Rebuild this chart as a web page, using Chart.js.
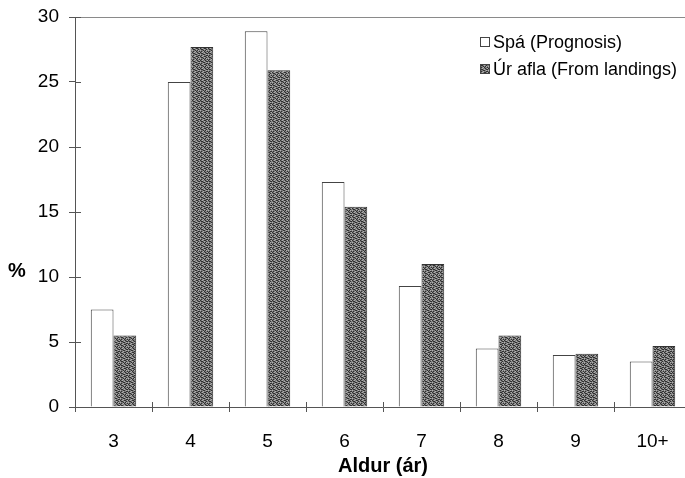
<!DOCTYPE html>
<html>
<head>
<meta charset="utf-8">
<script src="https://cdn.jsdelivr.net/npm/chart.js@4/dist/chart.umd.min.js"></script>
<style>
html,body{margin:0;padding:0;background:#fff;overflow:hidden;width:685px;height:478px;}
canvas{display:block;}
</style>
</head>
<body>
<canvas id="c" width="700" height="478" style="width:700px;height:478px"></canvas>
<script>
const categories = ['3','4','5','6','7','8','9','10+'];
const spaValues = [7.5, 25.0, 28.9, 17.3, 9.3, 4.5, 4.0, 3.5];
const landingsValues = [5.5, 27.7, 25.9, 15.4, 11.0, 5.5, 4.1, 4.7];
const seriesNames = ['Spá (Prognosis)', 'Úr afla (From landings)'];
const xTitle = 'Aldur (ár)';
const yTitle = '%';

const FONT = '"Liberation Sans", Arial, Helvetica, sans-serif';

// stipple texture for the dark bars
function makePattern() {
  const rows = [
    'd.l.dd.l',
    '.dd.l.d.',
    'l..d.dl.',
    '.d.ld..d',
    'd.l..d.l',
    '.dd.l.dd',
    'l..dd.l.',
    '.d.l..dd'
  ];
  const n = rows.length;
  const t = document.createElement('canvas');
  t.width = n; t.height = n;
  const c = t.getContext('2d');
  c.fillStyle = '#7a7a7a';
  c.fillRect(0, 0, n, n);
  for (let y = 0; y < n; y++) for (let x = 0; x < n; x++) {
    const ch = rows[y][x];
    if (ch === 'd') { c.fillStyle = '#303030'; c.fillRect(x, y, 1, 1); }
    if (ch === 'l') { c.fillStyle = '#b0b0b0'; c.fillRect(x, y, 1, 1); }
  }
  return document.getElementById('c').getContext('2d').createPattern(t, 'repeat');
}
const stipple = makePattern();

const AXIS = '#555';

const extras = {
  id: 'extras',
  afterDraw(chart) {
    const ctx = chart.ctx;
    const a = chart.chartArea;
    const xs = chart.scales.x, ys = chart.scales.y;
    ctx.save();
    // top border
    ctx.strokeStyle = '#8a8a8a';
    ctx.lineWidth = 1;
    ctx.beginPath();
    ctx.moveTo(a.left, a.top + 0.5);
    ctx.lineTo(a.right, a.top + 0.5);
    ctx.stroke();
    // inner tick parts
    ctx.strokeStyle = AXIS;
    ctx.beginPath();
    ys.ticks.forEach(t => {
      const y = Math.round(ys.getPixelForValue(t.value)) + 0.5;
      ctx.moveTo(a.left, y); ctx.lineTo(a.left + 6, y);
    });
    const half = (xs.getPixelForValue(1) - xs.getPixelForValue(0)) / 2;
    for (let i = 0; i < categories.length; i++) {
      const x = Math.round(xs.getPixelForValue(i) + half) + 0.5;
      ctx.moveTo(x, a.bottom); ctx.lineTo(x, a.bottom - 5);
    }
    ctx.stroke();
    // y title "%"
    ctx.fillStyle = '#000';
    ctx.font = 'bold 20px ' + FONT;
    ctx.textAlign = 'left';
    ctx.textBaseline = 'middle';
    ctx.fillText(yTitle, 8, 271);
    // legend
    const lx = 480;
    const rowsY = [42, 69];
    ctx.font = '18px ' + FONT;
    rowsY.forEach((cy, i) => {
      ctx.fillStyle = i === 0 ? '#fff' : stipple;
      ctx.fillRect(lx, cy - 5, 10, 10);
      ctx.strokeStyle = '#444';
      ctx.strokeRect(lx + 0.5, cy - 4.5, 9, 9);
      ctx.fillStyle = '#000';
      ctx.fillText(seriesNames[i], lx + 13, cy + 1);
    });
    ctx.restore();
  }
};

new Chart(document.getElementById('c'), {
  type: 'bar',
  data: {
    labels: categories,
    datasets: [
      { label: seriesNames[0], data: spaValues, backgroundColor: '#ffffff', borderColor: '#444', borderWidth: 1,
        categoryPercentage: 0.59, barPercentage: 1 },
      { label: seriesNames[1], data: landingsValues, backgroundColor: stipple, borderColor: '#333', borderWidth: 1,
        categoryPercentage: 0.59, barPercentage: 1 }
    ]
  },
  options: {
    responsive: false,
    animation: false,
    layout: { padding: { top: 17, right: 9, left: 0, bottom: 0 } },
    plugins: { legend: { display: false }, tooltip: { enabled: false } },
    scales: {
      x: {
        afterFit(s) { s.height = 71; s.paddingLeft = 0; s.paddingRight = 0; },
        grid: { drawOnChartArea: false, tickLength: 5, color: AXIS, offset: true },
        border: { color: AXIS, width: 1 },
        ticks: { color: '#000', padding: 18, font: { family: FONT, size: 19 } },
        title: { display: true, text: xTitle, color: '#000', padding: { top: 0, bottom: 0 },
                 font: { family: FONT, size: 20, weight: 'bold' } }
      },
      y: {
        min: 0, max: 30,
        afterFit(s) { s.width = 75; s.paddingTop = 0; s.paddingBottom = 0; },
        grid: { drawOnChartArea: false, tickLength: 6, color: AXIS },
        border: { color: AXIS, width: 1 },
        ticks: { stepSize: 5, color: '#000', padding: 10, font: { family: FONT, size: 19 } }
      }
    }
  },
  plugins: [extras]
});
</script>
</body>
</html>
